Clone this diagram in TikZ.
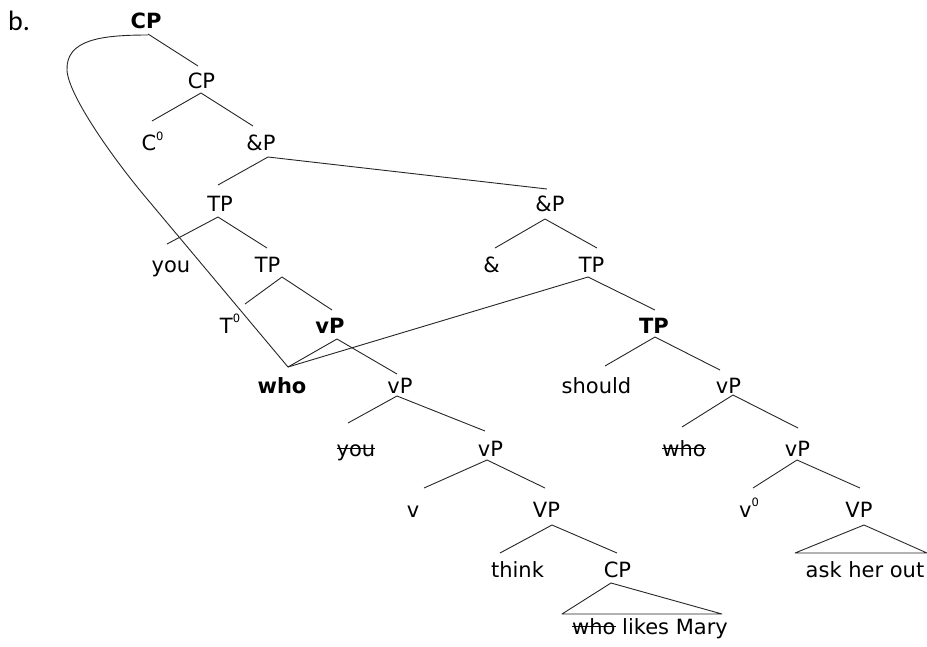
\documentclass[tikz,border=0pt]{standalone}
\usepackage{fontspec}
\setmainfont{DejaVu Sans}
\newfontfamily\labfont{Carlito}
\newcommand\strk[1]{\setbox0=\hbox{#1}\rlap{\rule[0.33em]{\wd0}{1.1pt}}\box0\relax}
\newcommand\zsup{\raisebox{10.5pt}{\fontsize{11.5}{12}\selectfont 0}}
\newcommand\lk[4]{\draw[br] ([shift={(#2)}]#1.base) -- ([shift={(#4)}]#3.base);}
\begin{document}
\begin{tikzpicture}[x=1pt,y=-1pt,
  lbl/.style={anchor=base, inner sep=0pt, font=\fontsize{21}{25}\selectfont},
  bld/.style={anchor=base, inner sep=0pt, font=\fontsize{21}{25}\selectfont\bfseries},
  br/.style={line width=0.9pt, black!85, line join=round}]
\useasboundingbox (0,0) rectangle (927,646);
\node[anchor=base west, inner sep=0pt, font=\labfont\fontsize{28}{30}\selectfont] (lab) at (8,30) {b.};
% nodes
\node[bld] (cpb) at (146,28) {CP};
\node[lbl] (cp1) at (201.5,88) {CP};
\node[lbl] (c0) at (152.5,150.5) {C\zsup};
\node[lbl] (ap1) at (261,150.5) {\&P};
\node[lbl] (tp1) at (220,211.5) {TP};
\node[lbl] (ap2) at (550,211.5) {\&P};
\node[lbl] (you1) at (171,272) {you};
\node[lbl] (tp2) at (267.5,272) {TP};
\node[lbl] (amp) at (491.5,272) {\&};
\node[lbl] (tp3) at (591.5,272) {TP};
\node[lbl] (t0) at (230,333) {T\zsup};
\node[bld] (vpb) at (330,333) {vP};
\node[bld] (tpb) at (654,333) {TP};
\node[bld] (whob) at (282,393) {who};
\node[lbl] (vp1) at (400,393) {vP};
\node[lbl] (should) at (596.5,393) {should};
\node[lbl] (vp2) at (728.5,393) {vP};
\node[lbl] (you2) at (356,456) {\strk{you}};
\node[lbl] (vp3) at (490.5,456) {vP};
\node[lbl] (who2) at (684,456) {\strk{who}};
\node[lbl] (vp4) at (797.5,456) {vP};
\node[lbl] (v1) at (413,517) {v};
\node[lbl] (VP1) at (546.5,517) {VP};
\node[lbl] (v0) at (749,517) {v\zsup};
\node[lbl] (VP2) at (859,517) {VP};
\node[lbl] (think) at (517.5,577) {think};
\node[lbl] (cp2) at (617.5,577) {CP};
\node[lbl] (wlm) at (650,634) {\strk{who} likes Mary};
\node[lbl] (aho) at (865,577) {ask her out};
% branches
\lk{cpb}{2,6}{cp1}{-3.5,-22}
\lk{cp1}{-0.5,5}{c0}{-0.5,-29.5}
\lk{cp1}{-0.5,5}{ap1}{-8,-24.5}
\lk{ap1}{7,6.5}{tp1}{-2,-26.5}
\lk{ap1}{7,6.5}{ap2}{-3,-22.5}
\lk{tp1}{-2,5.5}{you1}{-4,-28}
\lk{tp1}{-2,5.5}{tp2}{-0.5,-24}
\lk{ap2}{-5,7.5}{amp}{3.5,-24}
\lk{ap2}{-5,7.5}{tp3}{5.5,-24}
\lk{tp2}{14.5,5}{t0}{15,-29}
\lk{tp2}{14.5,5}{vpb}{2,-23}
\lk{tp3}{-3.5,5}{tpb}{1,-23}
\lk{tp3}{-3.5,5}{whob}{6,-26}
\lk{vpb}{7,6}{whob}{6,-26}
\lk{vpb}{7,6}{vp1}{-3,-19}
\lk{tpb}{1,4}{should}{8.5,-27}
\lk{tpb}{1,4}{vp2}{-8.5,-23}
\lk{vp1}{-3,3}{you2}{-8,-33}
\lk{vp1}{-3,3}{vp3}{-5.5,-25}
\lk{vp2}{4.5,2}{who2}{-2,-29}
\lk{vp2}{4.5,2}{vp4}{0.5,-28}
\lk{vp3}{-3.5,4}{v1}{11,-29}
\lk{vp3}{-3.5,4}{VP1}{-1.5,-29}
\lk{vp4}{-0.5,4}{v0}{4,-29}
\lk{vp4}{-0.5,4}{VP2}{1,-29}
\lk{VP1}{5.5,8}{think}{-17.5,-24}
\lk{VP1}{5.5,8}{cp2}{-0.5,-24}
% triangles
\draw[br] ([shift={(-6.5,6)}]cp2.base) -- ([shift={(-88,-20)}]wlm.base) -- ([shift={(72,-20)}]wlm.base) -- cycle;
\draw[br] ([shift={(5,8)}]VP2.base) -- ([shift={(-70,-24)}]aho.base) -- ([shift={(62,-24)}]aho.base) -- cycle;
% movement curve
\draw[br] ([shift={(2,7)}]cpb.base) .. controls (100,35) and (66,40) .. (67,70)
  .. controls (68,95) and (114,160) .. (148,200) -- ([shift={(6,-26)}]whob.base);
\end{tikzpicture}
\end{document}
